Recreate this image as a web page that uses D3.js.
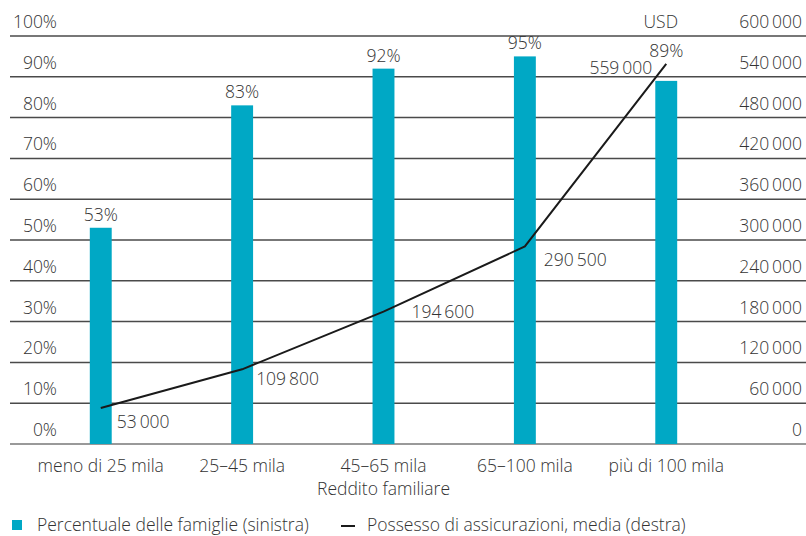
<!DOCTYPE html>
<html>
<head>
<meta charset="utf-8">
<script src="https://cdn.jsdelivr.net/npm/d3@7"></script>
<style>
  body { margin: 0; background: #fff; }
  svg text { font-family: "Open Sans", "Liberation Sans", sans-serif; font-weight: 300; fill: #333; font-size: 17.5px; }
</style>
</head>
<body>
<div class="chart"></div>
<script>
const width = 806;
const height = 536;

// data
const categories = ['meno di 25 mila', '25–45 mila', '45–65 mila', '65–100 mila', 'più di 100 mila'];
const pctFamilies = [53, 83, 92, 95, 89];
const insurance = [53000, 109800, 194600, 290500, 559000];
const leftTicks = [0, 10, 20, 30, 40, 50, 60, 70, 80, 90, 100];
const rightTicks = [0, 60000, 120000, 180000, 240000, 300000, 360000, 420000, 480000, 540000, 600000];

// label nudges for the line values (layout only)
const lineLabelDx = [16, 14, 28, 19, -14];
const lineLabelDy = [20, 16, 6, 20, 10];

const barColor = '#00a8c5';

const svg = d3.select('.chart')
  .append('svg')
  .attr('width', width)
  .attr('height', height);

const x = d3.scaleBand()
  .domain(categories)
  .range([30, 737])
  .paddingInner(0.845)
  .paddingOuter(0.423);

const yL = d3.scaleLinear().domain([0, 100]).range([444, 36]);
const yR = d3.scaleLinear().domain([0, 600000]).range([444, 36]);

const loc = d3.formatLocale({ decimal: ',', thousands: '\u2009', grouping: [3], currency: ['', ''] });
const fmt = loc.format(',d');

// gridlines
svg.selectAll('.grid')
  .data(leftTicks)
  .enter()
  .append('line')
  .attr('x1', 10)
  .attr('x2', width)
  .attr('y1', d => yL(d))
  .attr('y2', d => yL(d))
  .attr('stroke', d => d === 0 ? '#777' : '#4a4a4a')
  .attr('stroke-width', 1.5);

// left labels
svg.selectAll('.ltick')
  .data(leftTicks)
  .enter()
  .append('text')
  .attr('x', 57)
  .attr('y', d => yL(d) - 8)
  .attr('text-anchor', 'end')
  .text(d => d + '%');

// right labels
svg.selectAll('.rtick')
  .data(rightTicks)
  .enter()
  .append('text')
  .attr('x', 802)
  .attr('y', d => yR(d) - 8)
  .attr('text-anchor', 'end')
  .text(d => fmt(d));

svg.append('text')
  .attr('x', 678)
  .attr('y', 28)
  .attr('text-anchor', 'end')
  .text('USD');

// bars
svg.selectAll('.bar')
  .data(pctFamilies)
  .enter()
  .append('rect')
  .attr('x', (d, i) => x(categories[i]))
  .attr('width', x.bandwidth())
  .attr('y', d => yL(d))
  .attr('height', d => yL(0) - yL(d))
  .attr('fill', barColor);

svg.selectAll('.barlabel')
  .data(pctFamilies)
  .enter()
  .append('text')
  .attr('x', (d, i) => x(categories[i]) + x.bandwidth() / 2)
  .attr('y', (d, i) => i === pctFamilies.length - 1 ? yL(d) - 24 : yL(d) - 7)
  .attr('text-anchor', 'middle')
  .text(d => d + '%');

// line
const line = d3.line()
  .x((d, i) => x(categories[i]) + x.bandwidth() / 2)
  .y(d => yR(d));

svg.append('path')
  .datum(insurance)
  .attr('d', line)
  .attr('fill', 'none')
  .attr('stroke', '#1a1a1a')
  .attr('stroke-width', 2);

svg.selectAll('.linelabel')
  .data(insurance)
  .enter()
  .append('text')
  .attr('x', (d, i) => x(categories[i]) + x.bandwidth() / 2 + lineLabelDx[i])
  .attr('y', (d, i) => yR(d) + lineLabelDy[i])
  .attr('text-anchor', (d, i) => lineLabelDx[i] < 0 ? 'end' : 'start')
  .text(d => fmt(d));

// x labels
svg.selectAll('.xlabel')
  .data(categories)
  .enter()
  .append('text')
  .attr('x', d => x(d) + x.bandwidth() / 2)
  .attr('y', 472)
  .attr('text-anchor', 'middle')
  .text(d => d);

svg.append('text')
  .attr('x', x(categories[2]) + x.bandwidth() / 2)
  .attr('y', 495)
  .attr('text-anchor', 'middle')
  .text('Reddito familiare');

// legend
svg.append('rect')
  .attr('x', 12)
  .attr('y', 520)
  .attr('width', 10)
  .attr('height', 10)
  .attr('fill', barColor);
svg.append('text')
  .attr('x', 37)
  .attr('y', 531)
  .text('Percentuale delle famiglie (sinistra)');

svg.append('line')
  .attr('x1', 341)
  .attr('x2', 355)
  .attr('y1', 526)
  .attr('y2', 526)
  .attr('stroke', '#1a1a1a')
  .attr('stroke-width', 2);
svg.append('text')
  .attr('x', 367)
  .attr('y', 531)
  .text('Possesso di assicurazioni, media (destra)');
</script>
</body>
</html>
